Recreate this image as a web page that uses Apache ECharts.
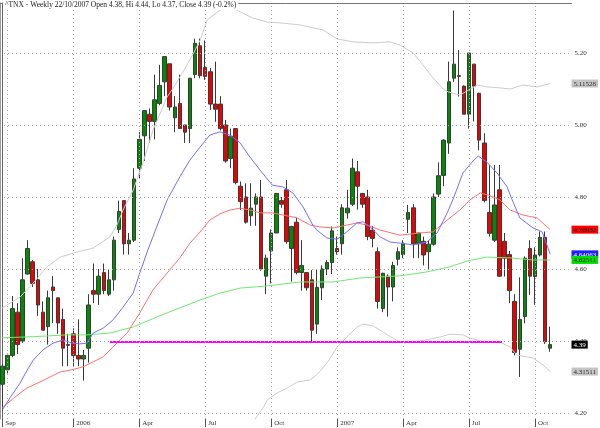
<!DOCTYPE html>
<html><head><meta charset="utf-8">
<script src="https://cdn.jsdelivr.net/npm/echarts@6/dist/echarts.min.js"></script>
<style>html,body{margin:0;padding:0;background:#fff}#c{width:600px;height:428px}</style>
</head><body><div id="c"></div>
<script>
const titleText = '^TNX - Weekly 22/10/2007 Open 4.38, Hi 4.44, Lo 4.37, Close 4.39 (-0.2%)';

// weekly candles, index 0 = first week shown (Sep 2005) ... 108 = week of 22/10/2007
const opens = [4.28,4.32,4.36,4.48,4.40,4.586,4.62,4.57,4.48,4.44, 4.55,4.52,4.46,4.39,4.42,4.36,4.35,4.38,4.54,4.53,
  4.59,4.53,4.57,4.71,4.79,4.67,4.68,4.88,4.97,5.03, 5.01,5.06,5.12,5.17,5.02,5.06,5.00,4.99,5.14,5.22,
  5.16,5.148,5.058,5.058,5.0,4.907,4.99,4.83,4.80,4.748, 4.78,4.80,4.58,4.65,4.70,4.79,4.82,4.657,4.73,4.59,
  4.59,4.57,4.447,4.548,4.60,4.618,4.657,4.67,4.756,4.78, 4.87,4.81,4.80,4.708,4.648,4.49,4.58,4.55,4.627,4.64,
  4.738,4.77,4.67,4.677,4.648,4.669,4.808,4.86,4.95,5.13, 5.137,5.108,5.03,5.169,5.088,4.95,4.757,4.68,4.82,4.677,
  4.64,4.51,4.377,4.468,4.657,4.579,4.639,4.688,4.38];
const closes = [4.33,4.36,4.49,4.39,4.57,4.657,4.56,4.50,4.43,4.52, 4.54,4.45,4.38,4.388,4.36,4.35,4.36,4.50,4.53,4.58,
  4.54,4.57,4.68,4.76,4.67,4.68,4.85,4.96,5.04,5.01, 5.07,5.11,5.19,5.05,5.05,4.99,4.98,5.13,5.227,5.137,
  5.135,5.058,5.044,4.99,4.90,4.969,4.84,4.787,4.73,4.769, 4.80,4.60,4.63,4.70,4.81,4.78,4.676,4.718,4.59,4.61,
  4.548,4.43,4.549,4.60,4.618,4.706,4.648,4.77,4.769,4.88, 4.83,4.78,4.69,4.685,4.51,4.588,4.55,4.61,4.648,4.67,
  4.757,4.67,4.70,4.639,4.669,4.80,4.859,4.958,5.12,5.169, 5.135,5.03,5.20,5.108,4.958,4.79,4.699,4.778,4.58,4.63,
  4.54,4.368,4.46,4.63,4.58,4.639,4.688,4.398,4.39];
const lows = [4.205,4.31,4.355,4.364,4.395,4.585,4.55,4.47,4.43,4.39, 4.45,4.42,4.33,4.33,4.33,4.33,4.29,4.34,4.505,4.50,
  4.53,4.525,4.54,4.70,4.64,4.64,4.675,4.85,4.90,4.95, 4.96,5.055,5.08,5.04,4.98,4.99,4.95,4.95,5.13,5.13,
  5.125,5.042,5.009,4.985,4.895,4.88,4.835,4.764,4.726,4.72, 4.72,4.595,4.53,4.56,4.70,4.77,4.67,4.565,4.585,4.54,
  4.54,4.398,4.42,4.514,4.583,4.586,4.64,4.64,4.74,4.775, 4.765,4.77,4.68,4.66,4.49,4.48,4.468,4.51,4.61,4.63,
  4.70,4.63,4.63,4.61,4.60,4.665,4.80,4.83,4.92,5.12, 5.079,5.03,4.99,5.01,4.93,4.785,4.69,4.675,4.578,4.579,
  4.505,4.36,4.30,4.449,4.528,4.50,4.635,4.392,4.37];
const highs = [4.335,4.365,4.525,4.505,4.63,4.68,4.625,4.60,4.51,4.54, 4.58,4.52,4.49,4.42,4.435,4.46,4.375,4.53,4.615,4.60,
  4.615,4.60,4.69,4.79,4.79,4.70,4.88,4.98,5.04,5.046, 5.14,5.167,5.19,5.17,5.08,5.14,5.00,5.13,5.24,5.24,
  5.235,5.158,5.176,5.08,5.014,4.99,4.99,4.843,4.838,4.838, 4.81,4.847,4.64,4.71,4.81,4.80,4.847,4.72,4.742,4.68,
  4.59,4.597,4.60,4.61,4.625,4.718,4.69,4.78,4.82,4.907, 4.90,4.81,4.82,4.72,4.66,4.59,4.585,4.62,4.66,4.68,
  4.778,4.78,4.70,4.69,4.68,4.81,4.896,4.96,5.176,5.318, 5.208,5.11,5.20,5.17,5.09,4.977,4.889,4.889,4.889,4.70,
  4.65,4.53,4.577,4.635,4.68,4.66,4.704,4.704,4.44];

// overlay lines: [week index, value]
const maShort = [[0,4.208],[1.5,4.242],[3.5,4.283],[4.9,4.319],[6.1,4.347],[8,4.375],[10,4.394],[12,4.403],[13.7,4.394],[15.3,4.392],[16.7,4.394],[17.9,4.422],[19.9,4.436],[21.8,4.458],[23.8,4.494],[25.8,4.533],[27.1,4.589],[28.7,4.653],[30.3,4.712],[32.5,4.792],[35,4.856],[37,4.903],[39,4.939],[40.9,4.972],[42.9,4.981],[44.9,4.972],[46.9,4.95],[48.8,4.911],[50.8,4.875],[53.2,4.833],[55.3,4.828],[57.3,4.811],[59.3,4.772],[61.2,4.722],[62,4.708],[64,4.686],[66,4.683],[67.9,4.703],[69.9,4.728],[71.1,4.731],[72.5,4.717],[74.5,4.689],[76.4,4.675],[78.4,4.672],[81,4.667],[83.7,4.675],[85.7,4.7],[87.7,4.756],[88.8,4.792],[90.8,4.867],[92.6,4.897],[93.8,4.914],[95.5,4.897],[97.5,4.867],[99.5,4.828],[100.5,4.792],[102,4.742],[104.6,4.714],[106.4,4.703],[108,4.641]];
const maMid = [[0,4.214],[2.2,4.241],[4.8,4.269],[7.4,4.286],[9.4,4.3],[11.4,4.314],[13.4,4.319],[15.9,4.328],[17.9,4.342],[19.9,4.356],[21.8,4.383],[24.6,4.422],[27.1,4.478],[29.7,4.542],[32.5,4.589],[35,4.631],[37,4.672],[39,4.703],[40.9,4.736],[42.9,4.753],[44.9,4.764],[46.9,4.769],[48.8,4.764],[50.8,4.756],[53.2,4.756],[55.3,4.75],[58.1,4.742],[60.7,4.722],[62.6,4.717],[65.2,4.714],[67.9,4.722],[69.9,4.728],[71.9,4.722],[74.5,4.708],[78.4,4.694],[82.3,4.7],[84.9,4.703],[87.7,4.736],[90.2,4.764],[92.2,4.792],[94.2,4.811],[95.7,4.806],[98.1,4.792],[100.1,4.764],[102.6,4.75],[105.4,4.742],[108,4.709]];
const maLong = [[0,4.409],[6.1,4.412],[12.8,4.417],[16.7,4.417],[21.2,4.422],[25.8,4.439],[30.5,4.467],[35,4.492],[39,4.514],[42.9,4.533],[46.9,4.547],[52.2,4.553],[58.7,4.564],[65.2,4.564],[70.5,4.575],[74.5,4.578],[78.4,4.581],[83.7,4.592],[88.2,4.606],[91.6,4.622],[95.5,4.633],[100.1,4.631],[104.6,4.625],[108,4.625]];
const bandUpper = [[0,4.492],[3.5,4.522],[6.1,4.561],[8.8,4.606],[11.4,4.633],[14.7,4.647],[17.9,4.658],[21.2,4.689],[22.6,4.722],[23.8,4.764],[25.8,4.819],[27.7,4.894],[29.7,4.986],[32.5,5.078],[33.7,5.103],[35.6,5.147],[37.6,5.197],[39,5.236],[40.4,5.292],[42.9,5.319],[44.9,5.331],[46.9,5.314],[49.4,5.297],[52.2,5.286],[55.3,5.283],[58.7,5.278],[63.2,5.264],[66,5.239],[69.1,5.231],[73.1,5.228],[76.4,5.231],[78.4,5.222],[81,5.2],[82.9,5.167],[84.9,5.131],[86.9,5.1],[87.9,5.092],[90.2,5.083],[93.6,5.111],[95.5,5.106],[98.1,5.103],[100.1,5.1],[102.6,5.111],[105.4,5.106],[108,5.115]];
const bandLower = [[46,4.10],[48,4.153],[49.6,4.178],[51.6,4.219],[52.2,4.236],[54.2,4.256],[56.1,4.269],[58.1,4.286],[60.7,4.292],[62,4.306],[64,4.339],[66,4.383],[67.9,4.411],[69.9,4.439],[71.1,4.447],[73.1,4.442],[75,4.425],[77,4.408],[78.4,4.397],[82.3,4.4],[86.3,4.411],[88.2,4.419],[90.8,4.417],[92.2,4.408],[94.2,4.4],[98.1,4.397],[100.1,4.383],[101.4,4.361],[104.6,4.353],[106.6,4.333],[108,4.315]];

const supportLevel = 4.397;
const supportSpan = [21.2, 98.5];

const xTickIdx = [0,14,27,40,53,66,79,92,105];
const xTickNames = ['Sep','2006','Apr','Jul','Oct','2007','Apr','Jul','Oct'];
const xGridIdx = [1,14,27,40,53,66,79,92,105];
const yTicks = [4.2,4.4,4.6,4.8,5.0,5.2];

const markerValues = [5.11528,4.70932,4.64063,4.62511,4.39,4.31511];
const markerTexts = ['5.11528','4.70932','4.64063','4.62511','4.39','4.31511'];
const markerBg = ['#c4c4c4','#ff0000','#2020ff','#00e000','#000000','#c4c4c4'];
const markerFg = ['#333333','#111111','#ffffff','#111111','#ffffff','#333333'];

const FONT = 'Liberation Serif';
const yMin = 4.18333, yMax = 5.33889;
const xMin = -0.45, xMax = 112.19;

const candles = opens.map((o, i) => [i, o, closes[i], lows[i], highs[i]]);
const rich = {};
markerValues.forEach((v, k) => {
  rich['m' + k] = {backgroundColor: markerBg[k], color: markerFg[k], padding: [1, 2, 0, 2], fontSize: 7, fontFamily: FONT, lineHeight: 8};
});
const gridLineData = xGridIdx.map(v => ({xAxis: v})).concat(yTicks.map(v => ({yAxis: v})));

const chart = echarts.init(document.getElementById('c'), null, {renderer: 'canvas'});
chart.setOption({
  animation: false,
  backgroundColor: '#ffffff',
  title: {
    text: titleText, left: 3, top: 0, padding: [1, 2, 1, 2], backgroundColor: '#ffffff',
    textStyle: {fontSize: 7.5, fontWeight: 'normal', fontFamily: FONT, color: '#222'}
  },
  grid: {left: 0, right: 28.5, top: 3, bottom: 9, containLabel: false, outerBoundsMode: 'none'},
  xAxis: [{
    type: 'value', min: xMin, max: xMax, position: 'bottom',
    axisLine: {show: false},
    axisTick: {show: true, length: 8, customValues: xTickIdx, lineStyle: {color: '#555'}},
    axisLabel: {customValues: xTickIdx, formatter: v => xTickNames[xTickIdx.indexOf(Math.round(v))] || '',
      align: 'left', margin: 1, padding: [0, 0, 0, 3], fontSize: 7, fontFamily: FONT, color: '#333'},
    splitLine: {show: false}
  }, {
    type: 'value', min: xMin, max: xMax, position: 'top',
    axisLine: {show: true, lineStyle: {color: '#777'}},
    axisTick: {show: false}, axisLabel: {show: false}, splitLine: {show: false}
  }],
  yAxis: [{
    type: 'value', min: yMin, max: yMax, position: 'right',
    axisLine: {show: true, lineStyle: {color: '#666'}},
    axisTick: {show: false, customValues: yTicks},
    axisLabel: {customValues: yTicks, formatter: v => v.toFixed(2), margin: 3, fontSize: 7, fontFamily: FONT, color: '#333'},
    splitLine: {show: false}
  }, {
    type: 'value', min: yMin, max: yMax, position: 'right',
    axisLine: {show: false}, axisTick: {show: false}, splitLine: {show: false},
    axisLabel: {customValues: markerValues, margin: 0,
      formatter: v => { const k = markerValues.findIndex(m => Math.abs(m - v) < 1e-6); return k < 0 ? '' : '{m' + k + '|' + markerTexts[k] + '}'; },
      rich: rich}
  }, {
    type: 'value', min: yMin, max: yMax, position: 'left',
    axisLine: {show: true, lineStyle: {color: '#999'}},
    axisTick: {show: false}, axisLabel: {show: false}, splitLine: {show: false}
  }],
  series: [
    {type: 'line', data: bandUpper, symbol: 'none', lineStyle: {color: '#cccccc', width: 1}, silent: true,
      markLine: {silent: true, symbol: 'none', label: {show: false}, animation: false,
        lineStyle: {color: '#a8a8a8', type: [1, 3], width: 1}, data: gridLineData}},
    {type: 'line', data: bandLower, symbol: 'none', lineStyle: {color: '#cccccc', width: 1}, silent: true},
    {type: 'line', data: maLong, symbol: 'none', lineStyle: {color: '#70e870', width: 1}, silent: true},
    {type: 'line', data: maMid, symbol: 'none', lineStyle: {color: '#ff7070', width: 1}, silent: true},
    {type: 'line', data: maShort, symbol: 'none', lineStyle: {color: '#7070ff', width: 1}, silent: true},
    {type: 'candlestick', data: candles, encode: {x: 0, y: [1, 2, 3, 4]}, barWidth: 4, clip: false,
      itemStyle: {color: '#008c00', color0: '#ee0000', borderColor: '#3a3a3a', borderColor0: '#3a3a3a', borderWidth: 1}},
    {type: 'line', data: supportSpan.map(x => [x, supportLevel]), symbol: 'none', lineStyle: {color: '#ff00ff', width: 2}, silent: true}
  ]
});
</script>
</body></html>
